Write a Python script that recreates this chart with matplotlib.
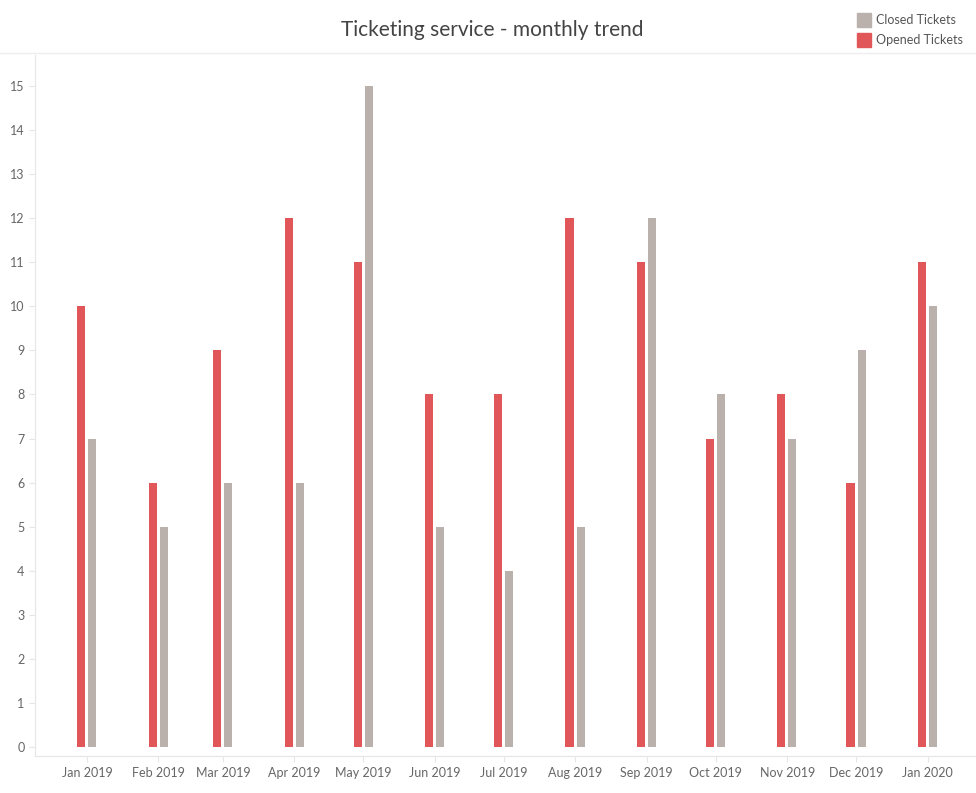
import matplotlib.pyplot as plt
import matplotlib.dates as mdates
from matplotlib.patches import Rectangle
from matplotlib.lines import Line2D
import numpy as np
import pandas as pd

plt.rcParams['font.family'] = ['Lato', 'DejaVu Sans']

months = pd.date_range("2019-01-01", "2020-01-01", freq="MS")
month_labels = [d.strftime("%b %Y") for d in months]
opened = [10, 6, 9, 12, 11, 8, 8, 12, 11, 7, 8, 6, 11]
closed = [7, 5, 6, 6, 15, 5, 4, 5, 12, 8, 7, 9, 10]

red = "#E15759"
grey = "#BAB0AC"
txt = "#666666"
line_col = "#E6E6E6"

fig = plt.figure(figsize=(9.76, 7.93), dpi=100)
ax = fig.add_axes([35 / 976, 37 / 793, 941 / 976, 701 / 793])

x = mdates.date2num(months)
ax.bar(x - 2.5, opened, width=3.5, color=red, label="Opened Tickets")
ax.bar(x + 2.3, closed, width=3.5, color=grey, label="Closed Tickets")

ax.set_xlim(x[0] - 22.6, x[-1] + 21)
ax.set_ylim(-0.2, 15.7)
ax.set_yticks(range(0, 16))
ax.set_xticks(x)
ax.set_xticklabels(month_labels)

for s in ["top", "right"]:
    ax.spines[s].set_visible(False)
for s in ["left", "bottom"]:
    ax.spines[s].set_color(line_col)
ax.tick_params(axis="both", colors=line_col, labelcolor=txt, labelsize=9, length=4)
ax.tick_params(axis="x", pad=4)

fig.text(492 / 976, 1 - 30 / 793, "Ticketing service - monthly trend",
         ha="center", va="center", fontsize=15, color="#444444")

# legend in the corner
for i, (lab, col) in enumerate([("Closed Tickets", grey), ("Opened Tickets", red)]):
    yc = 1 - (20 + i * 20) / 793
    fig.add_artist(Rectangle((857 / 976, yc - 6.5 / 793), 14 / 976, 13 / 793,
                             transform=fig.transFigure, color=col))
    fig.text(876 / 976, yc, lab, ha="left", va="center", fontsize=9, color="#555555")

fig.add_artist(Line2D([0, 1], [1 - 53 / 793, 1 - 53 / 793], transform=fig.transFigure,
                      color="#EEEEEE", lw=1))

fig.savefig("out.png", dpi=100)
